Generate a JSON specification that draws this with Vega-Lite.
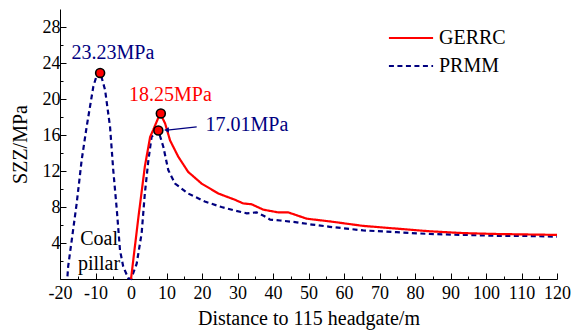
{
  "$schema": "https://vega.github.io/schema/vega-lite/v6.json",
  "width": 497,
  "height": 270,
  "autosize": {"type": "none"},
  "padding": {"left": 60, "top": 9, "right": 27, "bottom": 52},
  "config": {
    "view": {"stroke": null},
    "font": "Liberation Serif",
    "axis": {
      "grid": false,
      "domainColor": "black",
      "tickColor": "black",
      "labelColor": "black",
      "titleColor": "black",
      "labelFont": "Liberation Serif",
      "titleFont": "Liberation Serif",
      "labelFontSize": 18,
      "titleFontSize": 20,
      "titleFontWeight": "normal",
      "labelOverlap": false
    },
    "legend": {
      "labelFont": "Liberation Serif",
      "labelFontSize": 20,
      "labelColor": "black"
    }
  },
  "datasets": {
    "lines": [
      {"series": "PRMM", "x": -17.9, "y": 0.3},
      {"series": "PRMM", "x": -17.7, "y": 1.4},
      {"series": "PRMM", "x": -16.7, "y": 4.3},
      {"series": "PRMM", "x": -15.3, "y": 8.4},
      {"series": "PRMM", "x": -13.9, "y": 13.2},
      {"series": "PRMM", "x": -12.5, "y": 16.9},
      {"series": "PRMM", "x": -10.6, "y": 21.4},
      {"series": "PRMM", "x": -9.6, "y": 22.7},
      {"series": "PRMM", "x": -8.7, "y": 23.0},
      {"series": "PRMM", "x": -7.3, "y": 21.0},
      {"series": "PRMM", "x": -5.9, "y": 16.9},
      {"series": "PRMM", "x": -5.0, "y": 12.1},
      {"series": "PRMM", "x": -4.0, "y": 7.7},
      {"series": "PRMM", "x": -3.1, "y": 3.2},
      {"series": "PRMM", "x": -2.2, "y": 1.4},
      {"series": "PRMM", "x": -0.8, "y": 0.1},
      {"series": "PRMM", "x": 0, "y": 0},
      {"series": "PRMM", "x": 1.6, "y": 1.7},
      {"series": "PRMM", "x": 3.0, "y": 5.1},
      {"series": "PRMM", "x": 3.9, "y": 9.5},
      {"series": "PRMM", "x": 4.9, "y": 13.2},
      {"series": "PRMM", "x": 5.8, "y": 15.8},
      {"series": "PRMM", "x": 7.7, "y": 16.5},
      {"series": "PRMM", "x": 9.1, "y": 14.7},
      {"series": "PRMM", "x": 10.5, "y": 12.1},
      {"series": "PRMM", "x": 12.4, "y": 10.6},
      {"series": "PRMM", "x": 16.1, "y": 9.5},
      {"series": "PRMM", "x": 20.8, "y": 8.6},
      {"series": "PRMM", "x": 25.5, "y": 8.0},
      {"series": "PRMM", "x": 29.3, "y": 7.6},
      {"series": "PRMM", "x": 32.6, "y": 7.3},
      {"series": "PRMM", "x": 35.4, "y": 7.4},
      {"series": "PRMM", "x": 37.5, "y": 7.0},
      {"series": "PRMM", "x": 39.2, "y": 6.6},
      {"series": "PRMM", "x": 42.0, "y": 6.5},
      {"series": "PRMM", "x": 46.7, "y": 6.3},
      {"series": "PRMM", "x": 51.0, "y": 6.05},
      {"series": "PRMM", "x": 56.0, "y": 5.8},
      {"series": "PRMM", "x": 65.4, "y": 5.4},
      {"series": "PRMM", "x": 74.8, "y": 5.2},
      {"series": "PRMM", "x": 84.2, "y": 5.0},
      {"series": "PRMM", "x": 93.6, "y": 4.9},
      {"series": "PRMM", "x": 103.0, "y": 4.8},
      {"series": "PRMM", "x": 110.0, "y": 4.8},
      {"series": "PRMM", "x": 120.0, "y": 4.7},
      {"series": "GERRC", "x": 0, "y": 0},
      {"series": "GERRC", "x": 2.1, "y": 6.9},
      {"series": "GERRC", "x": 3.9, "y": 12.5},
      {"series": "GERRC", "x": 5.4, "y": 15.8},
      {"series": "GERRC", "x": 6.3, "y": 16.6},
      {"series": "GERRC", "x": 8.2, "y": 18.4},
      {"series": "GERRC", "x": 9.6, "y": 17.3},
      {"series": "GERRC", "x": 11.0, "y": 15.4},
      {"series": "GERRC", "x": 13.3, "y": 13.6},
      {"series": "GERRC", "x": 16.1, "y": 11.9},
      {"series": "GERRC", "x": 19.9, "y": 10.6},
      {"series": "GERRC", "x": 24.6, "y": 9.5},
      {"series": "GERRC", "x": 29.3, "y": 8.8},
      {"series": "GERRC", "x": 31.6, "y": 8.4},
      {"series": "GERRC", "x": 34.0, "y": 8.3},
      {"series": "GERRC", "x": 37.3, "y": 7.7},
      {"series": "GERRC", "x": 41.5, "y": 7.4},
      {"series": "GERRC", "x": 44.3, "y": 7.4},
      {"series": "GERRC", "x": 49.5, "y": 6.7},
      {"series": "GERRC", "x": 56.0, "y": 6.4},
      {"series": "GERRC", "x": 65.4, "y": 5.9},
      {"series": "GERRC", "x": 74.8, "y": 5.6},
      {"series": "GERRC", "x": 84.2, "y": 5.3},
      {"series": "GERRC", "x": 93.6, "y": 5.1},
      {"series": "GERRC", "x": 103.0, "y": 5.0},
      {"series": "GERRC", "x": 120.0, "y": 4.9}
    ],
    "peaks": [
      {"x": -8.7, "y": 22.9},
      {"x": 8.4, "y": 18.4},
      {"x": 7.7, "y": 16.5}
    ],
    "labels": [
      {"group": "blue", "text": "23.23MPa", "x": -5.1, "y": 25.1, "align": "center"},
      {"group": "red", "text": "18.25MPa", "x": 11.1, "y": 20.5, "align": "center"},
      {"group": "blue", "text": "17.01MPa", "x": 21.0, "y": 17.1, "align": "left"},
      {"group": "black", "text": "Coal", "x": -9.0, "y": 4.5, "align": "center"},
      {"group": "black", "text": "pillar", "x": -9.0, "y": 1.7, "align": "center"}
    ],
    "arrow": [
      {"x": 18.5, "y": 16.9},
      {"x": 10.2, "y": 16.55}
    ],
    "arrowhead": [
      {"x": 10.0, "y": 16.55}
    ]
  },
  "encoding": {
    "x": {
      "field": "x", "type": "quantitative",
      "scale": {"domain": [-20, 120], "nice": false, "zero": false},
      "axis": {
        "title": "Distance to 115 headgate/m",
        "values": [-20,-15,-10,-5,0,5,10,15,20,25,30,35,40,45,50,55,60,65,70,75,80,85,90,95,100,105,110,115,120],
        "labelExpr": "datum.value % 10 === 0 ? '' + datum.value : ''",
        "tickSize": {"condition": {"test": "datum.value % 10 === 0", "value": -6}, "value": -3},
        "labelPadding": 11,
        "titleY": 29,
        "labelFlush": false,
        "labelOverlap": false
      }
    },
    "y": {
      "field": "y", "type": "quantitative",
      "scale": {"domain": [0, 30], "nice": false},
      "axis": {
        "title": "SZZ/MPa",
        "values": [2,4,6,8,10,12,14,16,18,20,22,24,26,28],
        "labelExpr": "datum.value % 4 === 0 ? '' + datum.value : ''",
        "tickSize": {"condition": {"test": "datum.value % 4 === 0", "value": -6}, "value": -3},
        "labelPadding": 6,
        "titleX": -30,
        "labelOverlap": false
      }
    }
  },
  "layer": [
    {
      "data": {"name": "lines"},
      "mark": {"type": "line", "strokeWidth": 2.2},
      "encoding": {
        "color": {
          "field": "series", "type": "nominal",
          "scale": {"domain": ["GERRC", "PRMM"], "range": ["#ff0000", "#00007f"]},
          "legend": {
            "title": null,
            "orient": "none",
            "legendX": 341,
            "legendY": 19,
            "symbolType": "M-5,0H5",
            "symbolSize": 78,
            "symbolStrokeWidth": 2.2,
            "labelOffset": 18,
            "rowPadding": 8
          }
        },
        "strokeDash": {
          "field": "series", "type": "nominal",
          "scale": {"domain": ["GERRC", "PRMM"], "range": [[1, 0], [5, 3.5]]},
          "legend": {
            "title": null,
            "orient": "none",
            "legendX": 341,
            "legendY": 19,
            "symbolType": "M-5,0H5",
            "symbolSize": 78,
            "symbolStrokeWidth": 2.2,
            "labelOffset": 18,
            "rowPadding": 8
          }
        }
      }
    },
    {
      "data": {"name": "arrow"},
      "mark": {"type": "line", "color": "#00007f", "strokeWidth": 1.2},
      "encoding": {}
    },
    {
      "data": {"name": "arrowhead"},
      "mark": {"type": "point", "shape": "triangle-left", "filled": true, "color": "#00007f", "size": 30, "opacity": 1},
      "encoding": {}
    },
    {
      "data": {"name": "peaks"},
      "mark": {"type": "point", "shape": "circle", "filled": true, "fill": "#ff0000", "stroke": "black", "strokeWidth": 1.6, "size": 80, "opacity": 1},
      "encoding": {}
    },
    {
      "data": {"name": "labels"},
      "transform": [{"filter": "datum.group === 'blue' && datum.align === 'center'"}],
      "mark": {"type": "text", "font": "Liberation Serif", "fontSize": 20, "color": "#00007f", "align": "center", "baseline": "middle"},
      "encoding": {"text": {"field": "text"}}
    },
    {
      "data": {"name": "labels"},
      "transform": [{"filter": "datum.group === 'blue' && datum.align === 'left'"}],
      "mark": {"type": "text", "font": "Liberation Serif", "fontSize": 20, "color": "#00007f", "align": "left", "baseline": "middle"},
      "encoding": {"text": {"field": "text"}}
    },
    {
      "data": {"name": "labels"},
      "transform": [{"filter": "datum.group === 'red'"}],
      "mark": {"type": "text", "font": "Liberation Serif", "fontSize": 20, "color": "#ff0000", "align": "center", "baseline": "middle"},
      "encoding": {"text": {"field": "text"}}
    },
    {
      "data": {"name": "labels"},
      "transform": [{"filter": "datum.group === 'black'"}],
      "mark": {"type": "text", "font": "Liberation Serif", "fontSize": 20, "color": "black", "align": "center", "baseline": "middle"},
      "encoding": {"text": {"field": "text"}}
    }
  ]
}
